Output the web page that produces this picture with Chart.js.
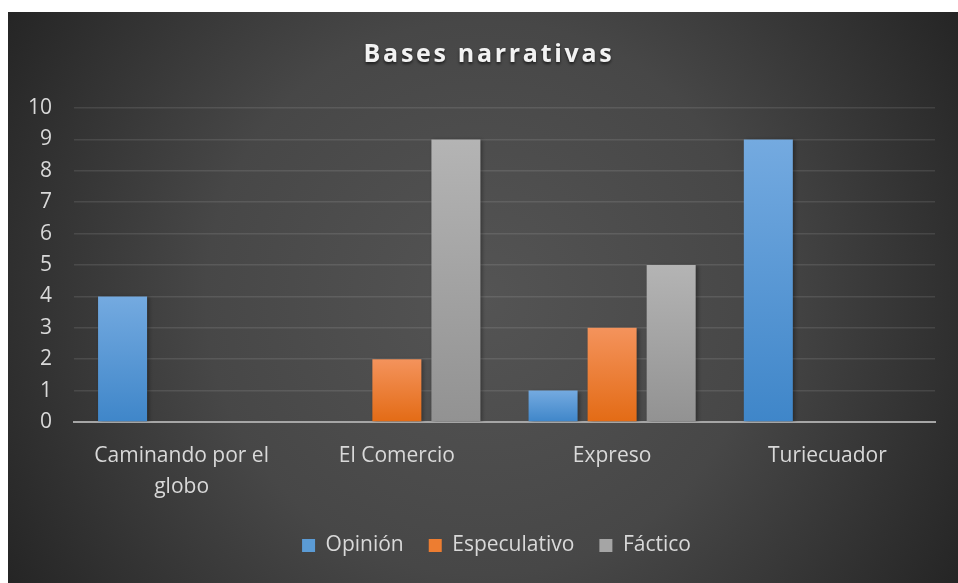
<!DOCTYPE html>
<html>
<head>
<meta charset="utf-8">
<script src="https://cdn.jsdelivr.net/npm/chart.js@4"></script>
<style>
  body { margin: 0; background: #ffffff; }
  #caja { position: absolute; left: 8px; top: 12px; width: 950px; height: 571px; }
</style>
</head>
<body>
<div id="caja"><canvas id="grafico"></canvas></div>
<script>
// Datos
const titulo = "Bases narrativas";
const categorias = [["Caminando por el", "globo"], "El Comercio", "Expreso", "Turiecuador"];
const series = ["Opinión", "Especulativo", "Fáctico"];
const opinion = [4, 0, 1, 9];
const especulativo = [0, 2, 3, 0];
const factico = [0, 9, 5, 0];
const marcasY = [0, 1, 2, 3, 4, 5, 6, 7, 8, 9, 10];

const fuente = '"Open Sans", sans-serif';
const gris = "#d9d9d9";

// degradado de arriba a abajo en cada barra
function degradado(arriba, abajo) {
    return function (ctx) {
        const chart = ctx.chart;
        if (!chart.chartArea || ctx.type !== "data") return abajo;
        const y = chart.scales.y;
        const tope = y.getPixelForValue(ctx.raw);
        const base = y.getPixelForValue(0);
        if (base - tope < 1) return abajo;
        const g = chart.ctx.createLinearGradient(0, tope, 0, base);
        g.addColorStop(0, arriba);
        g.addColorStop(1, abajo);
        return g;
    };
}

const colores = [
    { arriba: "#74aae0", abajo: "#3f86c9", caja: "#5b9bd5" },
    { arriba: "#f4935c", abajo: "#e36b15", caja: "#ed7d31" },
    { arriba: "#b4b4b4", abajo: "#929292", caja: "#a5a5a5" }
];

// fondo oscuro, titulo con espaciado y sombra de las barras
const fondo = {
    id: "fondo",
    afterLayout(chart) {
        // la leyenda va un poco a la derecha, como en el original
        chart.legend.left += 25;
        chart.legend.right += 25;
    },
    beforeDraw(chart) {
        const c = chart.ctx;
        const w = chart.width, h = chart.height;
        const g = c.createRadialGradient(w * 0.5, h * 0.5, 0, w * 0.5, h * 0.5, Math.hypot(w, h) / 2);
        g.addColorStop(0, "#545454");
        g.addColorStop(0.5, "#474747");
        g.addColorStop(1, "#252525");
        c.save();
        c.fillStyle = g;
        c.fillRect(0, 0, w, h);
        c.font = "bold 25px " + fuente;
        c.letterSpacing = "2.7px";
        c.textAlign = "center";
        c.textBaseline = "alphabetic";
        c.shadowColor = "rgba(0,0,0,0.6)";
        c.shadowBlur = 3;
        c.shadowOffsetY = 2;
        c.fillStyle = "#f2f2f2";
        c.fillText(titulo, 481, 50);
        c.restore();
    },
    beforeDatasetsDraw(chart) {
        const c = chart.ctx;
        c.save();
        c.shadowColor = "rgba(0,0,0,0.35)";
        c.shadowBlur = 4;
        c.shadowOffsetX = 2;
        c.shadowOffsetY = 1;
    },
    afterDatasetsDraw(chart) {
        chart.ctx.restore();
    }
};

const datos = [opinion, especulativo, factico];

new Chart(document.getElementById("grafico").getContext("2d"), {
    type: "bar",
    data: {
        labels: categorias,
        datasets: series.map((nombre, i) => ({
            label: nombre,
            data: datos[i],
            backgroundColor: degradado(colores[i].arriba, colores[i].abajo),
            borderWidth: 0,
            categoryPercentage: 0.823,
            barPercentage: 0.83
        }))
    },
    plugins: [fondo],
    options: {
        responsive: true,
        maintainAspectRatio: false,
        animation: false,
        layout: {
            padding: { top: 96, right: 23, left: 0, bottom: 17 }
        },
        plugins: {
            title: { display: false },
            tooltip: { enabled: false },
            legend: {
                position: "bottom",
                labels: {
                    color: gris,
                    font: { family: fuente, size: 21 },
                    boxWidth: 13,
                    boxHeight: 13,
                    padding: 25,
                    generateLabels(chart) {
                        return chart.data.datasets.map((d, i) => ({
                            text: d.label,
                            fillStyle: colores[i].caja,
                            strokeStyle: colores[i].caja,
                            lineWidth: 0,
                            fontColor: gris,
                            datasetIndex: i
                        }));
                    }
                }
            }
        },
        scales: {
            x: {
                grid: { display: false, drawTicks: false },
                border: { color: "#a6a6a6", width: 2 },
                afterFit(scale) {
                    scale.height -= 11;
                },
                ticks: {
                    color: gris,
                    font: { family: fuente, size: 21, lineHeight: 1.5 },
                    padding: 18,
                    maxRotation: 0,
                    autoSkip: false
                }
            },
            y: {
                min: 0,
                max: 10,
                afterBuildTicks(scale) {
                    scale.ticks = marcasY.map(v => ({ value: v }));
                },
                afterFit(scale) {
                    scale.width = 66;
                },
                grid: {
                    color: "rgba(255,255,255,0.1)",
                    lineWidth: 1.5,
                    drawTicks: false
                },
                border: { display: false },
                ticks: {
                    color: gris,
                    font: { family: fuente, size: 21 },
                    padding: 22
                }
            }
        }
    }
});
</script>
</body>
</html>
